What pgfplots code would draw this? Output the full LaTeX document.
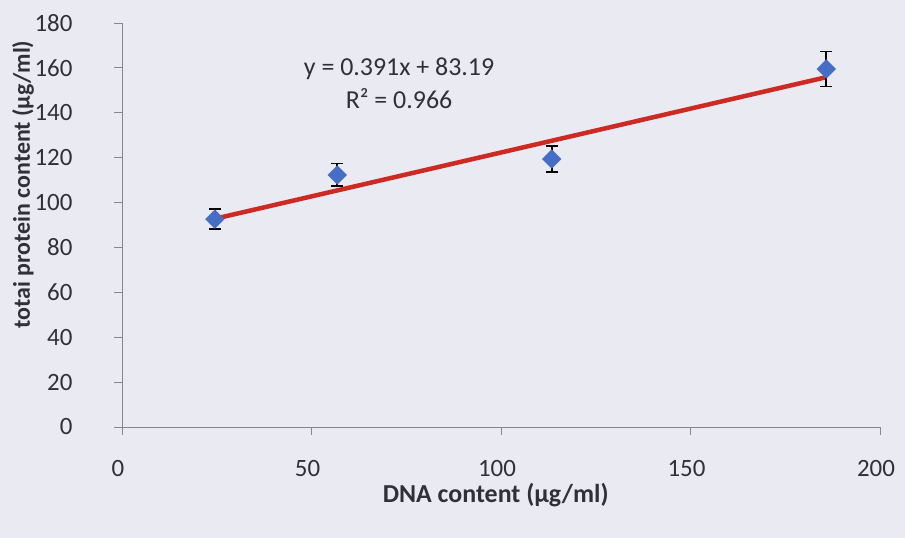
\documentclass[border=0pt]{standalone}
\usepackage{pgfplots}
\pgfplotsset{compat=1.18}
\usepackage{fontspec}
\setmainfont{Carlito}
\definecolor{bg}{RGB}{234,234,242}
\definecolor{axgray}{RGB}{134,134,140}
\definecolor{txt}{RGB}{48,48,54}
\definecolor{mblue}{RGB}{70,110,200}
\definecolor{tred}{RGB}{205,42,36}
\begin{document}
\begin{tikzpicture}[x=1bp,y=1bp]
\fill[bg] (0,0) rectangle (905,538);
\begin{axis}[
  at={(122bp,111bp)}, anchor=south west,
  scale only axis, width=758bp, height=404bp,
  xmin=0, xmax=200, ymin=0, ymax=180,
  xtick={0,50,...,200}, ytick={0,20,...,180},
  axis x line=bottom, axis y line=left,
  axis line style={axgray, line width=0.9bp, -},
  tick style={axgray, line width=0.9bp},
  tick align=outside, major tick length=8bp,
  x tick label style={font=\fontsize{25}{27}\selectfont, text=txt, yshift=-22bp, xshift=-4bp},
  y tick label style={font=\fontsize{25}{27}\selectfont, text=txt, xshift=-38bp},
  /pgf/number format/assume math mode=true,
  xlabel={\textbf{DNA content (µg/ml)}},
  ylabel={\textbf{totai protein content (µg/ml)}},
  every axis x label/.style={at={(axis description cs:0.493,-0.168)}, anchor=center},
  every axis y label/.style={at={(axis description cs:-0.1306,0.6)}, anchor=center, rotate=90},
  xlabel style={font=\fontsize{26}{28}\selectfont, text=txt},
  ylabel style={font=\fontsize{24}{26}\selectfont, text=txt},
  clip=false,
]
\addplot[tred, line width=4.5bp, no marks] coordinates {(24.5,92.77) (185.8,155.84)};
\addplot[only marks, mark=square*, mark size=6.6bp,
  mark options={fill=mblue, draw=mblue, rotate=45},
  error bars/.cd, y dir=both, y explicit,
  error bar style={black, line width=1.6bp},
  error mark options={rotate=90, mark size=6bp, line width=1.8bp, black}]
  coordinates {
  (24.5,92.6) +- (0,4.5)
  (56.8,112.3) +- (0,5.1)
  (113.4,119.4) +- (0,5.8)
  (185.8,159.5) +- (0,7.8)
};
\node[align=center, font=\fontsize{26}{33}\selectfont, text=txt] at (axis cs:73.1,153) {y = 0.391x + 83.19\\R² = 0.966};
\end{axis}
\end{tikzpicture}
\end{document}
